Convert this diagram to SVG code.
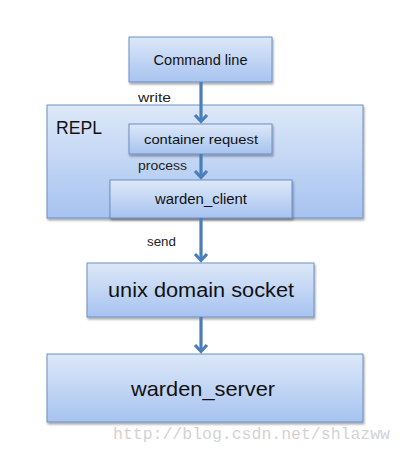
<svg xmlns="http://www.w3.org/2000/svg" width="405" height="452" viewBox="0 0 405 452">
<defs>
<linearGradient id="g" x1="0" y1="0" x2="0" y2="1">
<stop offset="0" stop-color="#dde8f8"/>
<stop offset="1" stop-color="#a7c3f0"/>
</linearGradient>
<filter id="sh" x="-5%" y="-5%" width="115%" height="125%">
<feGaussianBlur in="SourceAlpha" stdDeviation="1.2"/>
<feOffset dx="0.5" dy="1.5"/>
<feComponentTransfer><feFuncA type="linear" slope="0.35"/></feComponentTransfer>
<feMerge><feMergeNode/><feMergeNode in="SourceGraphic"/></feMerge>
</filter>
</defs>
<style>
.box{fill:url(#g);stroke:#6d8fc4;stroke-width:1;filter:url(#sh)}
.t{font-family:"Liberation Sans",Arial,sans-serif;fill:#111;text-anchor:middle}
.lbl{font-family:"Liberation Sans",Arial,sans-serif;fill:#222;font-size:12px}
.ln{stroke:#4a7ebb;stroke-width:3.2;fill:none}
.hd{stroke:#4a7ebb;stroke-width:3.2;fill:none;stroke-linejoin:miter}
.wm{font-family:"Liberation Mono","Courier New",monospace;fill:#d3d3d3;font-size:16.5px}
</style>
<rect width="405" height="452" fill="#ffffff"/>
<g id="repl">
<rect class="box" x="47" y="105" width="316" height="113"/>
<text x="56" y="134" font-family="Liberation Sans,Arial,sans-serif" font-size="18" fill="#111" textLength="46" lengthAdjust="spacingAndGlyphs">REPL</text>
</g>
<g id="command-line">
<rect class="box" x="129" y="37" width="143" height="45"/>
<text class="t" x="200.5" y="65" font-size="14" textLength="94" lengthAdjust="spacingAndGlyphs">Command line</text>
</g>
<g id="container-request">
<rect class="box" x="129" y="124" width="143" height="30"/>
<text class="t" x="201" y="144" font-size="13.5" textLength="114" lengthAdjust="spacingAndGlyphs">container request</text>
</g>
<g id="warden-client">
<rect class="box" x="110" y="180" width="182" height="38"/>
<text class="t" x="201" y="204" font-size="14" textLength="92" lengthAdjust="spacingAndGlyphs">warden_client</text>
</g>
<g id="unix-domain-socket">
<rect class="box" x="87" y="263" width="227" height="54"/>
<text class="t" x="201" y="297" font-size="20" textLength="186" lengthAdjust="spacingAndGlyphs">unix domain socket</text>
</g>
<g id="warden-server">
<rect class="box" x="47" y="354" width="316" height="68"/>
<text class="t" x="203" y="396" font-size="21" textLength="144" lengthAdjust="spacingAndGlyphs">warden_server</text>
</g>
<g id="connectors">
<line class="ln" x1="201" y1="82" x2="201" y2="121"/>
<polyline class="hd" points="195,115 201,121.5 207,115"/>
<line class="ln" x1="201" y1="154" x2="201" y2="177"/>
<polyline class="hd" points="195,171 201,177.5 207,171"/>
<line class="ln" x1="201" y1="218" x2="201" y2="260"/>
<polyline class="hd" points="195,254 201,260.5 207,254"/>
<line class="ln" x1="201" y1="317" x2="201" y2="351"/>
<polyline class="hd" points="195,345 201,351.5 207,345"/>
<text class="lbl" x="138" y="102" textLength="33" lengthAdjust="spacingAndGlyphs">write</text>
<text class="lbl" x="138" y="170" textLength="49" lengthAdjust="spacingAndGlyphs">process</text>
<text class="lbl" x="147" y="246" textLength="29" lengthAdjust="spacingAndGlyphs">send</text>
</g>
<text class="wm" x="113" y="439" textLength="277" lengthAdjust="spacingAndGlyphs">http://blog.csdn.net/shlazww</text>
</svg>
